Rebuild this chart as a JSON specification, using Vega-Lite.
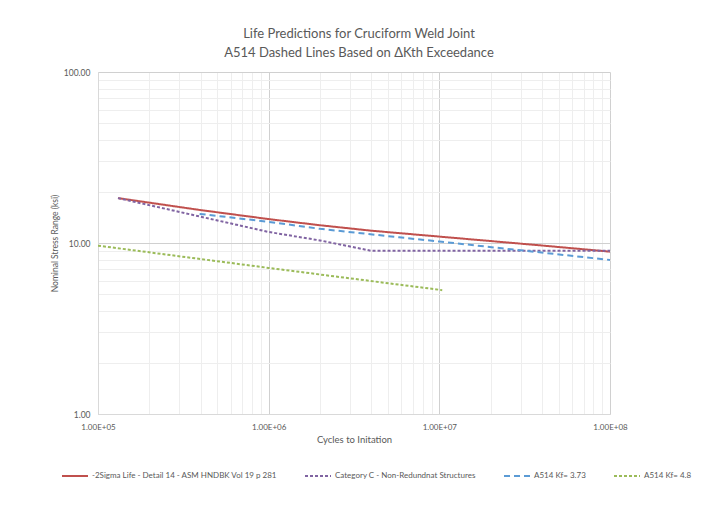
{
  "$schema": "https://vega.github.io/schema/vega-lite/v6.json",
  "autosize": {"type": "none"},
  "padding": {"left": 98, "top": 72, "right": 101, "bottom": 96},
  "width": 512,
  "height": 342,
  "background": "white",
  "title": {
    "text": ["Life Predictions for Cruciform Weld Joint", "A514 Dashed Lines Based on ΔKth  Exceedance"],
    "font": "Lato",
    "fontSize": 13,
    "fontWeight": "normal",
    "color": "#595959",
    "anchor": "middle",
    "dx": 5,
    "offset": 8,
    "lineHeight": 19
  },
  "data": {
    "values": [
      {"series": "-2Sigma Life - Detail 14 - ASM HNDBK Vol 19 p 281", "N": 131000, "S": 18.3},
      {"series": "-2Sigma Life - Detail 14 - ASM HNDBK Vol 19 p 281", "N": 395000, "S": 15.6},
      {"series": "-2Sigma Life - Detail 14 - ASM HNDBK Vol 19 p 281", "N": 1000000, "S": 13.8},
      {"series": "-2Sigma Life - Detail 14 - ASM HNDBK Vol 19 p 281", "N": 2000000, "S": 12.7},
      {"series": "-2Sigma Life - Detail 14 - ASM HNDBK Vol 19 p 281", "N": 4000000, "S": 11.8},
      {"series": "-2Sigma Life - Detail 14 - ASM HNDBK Vol 19 p 281", "N": 10000000, "S": 10.9},
      {"series": "-2Sigma Life - Detail 14 - ASM HNDBK Vol 19 p 281", "N": 38500000, "S": 9.7},
      {"series": "-2Sigma Life - Detail 14 - ASM HNDBK Vol 19 p 281", "N": 100000000, "S": 8.9},
      {"series": "Category C - Non-Redundnat Structures", "N": 131000, "S": 18.3},
      {"series": "Category C - Non-Redundnat Structures", "N": 1000000, "S": 11.6},
      {"series": "Category C - Non-Redundnat Structures", "N": 2000000, "S": 10.35},
      {"series": "Category C - Non-Redundnat Structures", "N": 4000000, "S": 9.0},
      {"series": "Category C - Non-Redundnat Structures", "N": 100000000, "S": 9.0},
      {"series": "A514 Kf= 3.73", "N": 394000, "S": 14.8},
      {"series": "A514 Kf= 3.73", "N": 1000000, "S": 13.3},
      {"series": "A514 Kf= 3.73", "N": 2000000, "S": 12.1},
      {"series": "A514 Kf= 3.73", "N": 5800000, "S": 10.8},
      {"series": "A514 Kf= 3.73", "N": 10000000, "S": 10.2},
      {"series": "A514 Kf= 3.73", "N": 100000000, "S": 7.96},
      {"series": "A514 Kf= 4.8", "N": 100000, "S": 9.65},
      {"series": "A514 Kf= 4.8", "N": 1000000, "S": 7.15},
      {"series": "A514 Kf= 4.8", "N": 10400000, "S": 5.3}
    ]
  },
  "mark": {"type": "line", "strokeWidth": 2, "clip": true},
  "encoding": {
    "x": {
      "field": "N",
      "type": "quantitative",
      "scale": {"type": "log", "domain": [100000, 100000000], "nice": false},
      "axis": {
        "title": "Cycles to Initation",
        "values": [100000, 200000, 300000, 400000, 500000, 600000, 700000, 800000, 900000, 1000000, 2000000, 3000000, 4000000, 5000000, 6000000, 7000000, 8000000, 9000000, 10000000, 20000000, 30000000, 40000000, 50000000, 60000000, 70000000, 80000000, 90000000, 100000000],
        "labelExpr": "abs(log(datum.value)/LN10 - round(log(datum.value)/LN10)) < 0.001 ? '1.00E+0' + round(log(datum.value)/LN10) : ''",
        "gridColor": {"condition": {"test": "abs(log(datum.value)/LN10 - round(log(datum.value)/LN10)) < 0.001", "value": "#D0D0D0"}, "value": "#EEEEEE"},
        "ticks": false,
        "domainColor": "#D9D9D9",
        "labelFont": "Lato",
        "labelFontSize": 8,
        "labelColor": "#595959",
        "labelPadding": 9,
        "labelFlush": false,
        "labelOverlap": false,
        "titleFont": "Lato",
        "titleFontSize": 9.5,
        "titleFontWeight": "normal",
        "titleColor": "#595959",
        "titlePadding": 3
      }
    },
    "y": {
      "field": "S",
      "type": "quantitative",
      "scale": {"type": "log", "domain": [1, 100], "nice": false},
      "axis": {
        "title": "Nominal Stress Range (ksi)",
        "values": [1, 2, 3, 4, 5, 6, 7, 8, 9, 10, 20, 30, 40, 50, 60, 70, 80, 90, 100],
        "labelExpr": "abs(log(datum.value)/LN10 - round(log(datum.value)/LN10)) < 0.001 ? format(datum.value, '.2f') : ''",
        "gridColor": {"condition": {"test": "abs(log(datum.value)/LN10 - round(log(datum.value)/LN10)) < 0.001", "value": "#D0D0D0"}, "value": "#EEEEEE"},
        "ticks": false,
        "domainColor": "#D9D9D9",
        "labelFont": "Lato",
        "labelFontSize": 8.5,
        "labelColor": "#595959",
        "labelPadding": 8,
        "labelFlush": false,
        "labelOverlap": false,
        "titleFont": "Lato",
        "titleFontSize": 8.5,
        "titleFontWeight": "normal",
        "titleColor": "#595959",
        "titlePadding": 4
      }
    },
    "color": {
      "field": "series",
      "type": "nominal",
      "scale": {
        "domain": ["-2Sigma Life - Detail 14 - ASM HNDBK Vol 19 p 281", "Category C - Non-Redundnat Structures", "A514 Kf= 3.73", "A514 Kf= 4.8"],
        "range": ["#C0504D", "#8064A2", "#5B9BD5", "#9BBB59"]
      },
      "legend": {
        "title": null,
        "orient": "none",
        "direction": "horizontal",
        "legendX": -37,
        "legendY": 390,
        "gridAlign": "none",
        "symbolType": "stroke",
        "symbolSize": 676,
        "symbolStrokeWidth": 2,
        "labelFont": "Lato",
        "labelFontSize": 8,
        "labelColor": "#595959",
        "labelLimit": 400,
        "columnPadding": 24,
        "labelOffset": 3
      }
    },
    "strokeDash": {
      "field": "series",
      "type": "nominal",
      "scale": {
        "domain": ["-2Sigma Life - Detail 14 - ASM HNDBK Vol 19 p 281", "Category C - Non-Redundnat Structures", "A514 Kf= 3.73", "A514 Kf= 4.8"],
        "range": [[1, 0], [3, 2], [6, 4], [3, 2]]
      },
      "legend": {
        "title": null,
        "orient": "none",
        "direction": "horizontal",
        "legendX": -37,
        "legendY": 390,
        "gridAlign": "none",
        "symbolType": "stroke",
        "symbolSize": 676,
        "symbolStrokeWidth": 2,
        "labelFont": "Lato",
        "labelFontSize": 8,
        "labelColor": "#595959",
        "labelLimit": 400,
        "columnPadding": 24,
        "labelOffset": 3
      }
    }
  },
  "config": {
    "view": {"stroke": null}
  }
}
